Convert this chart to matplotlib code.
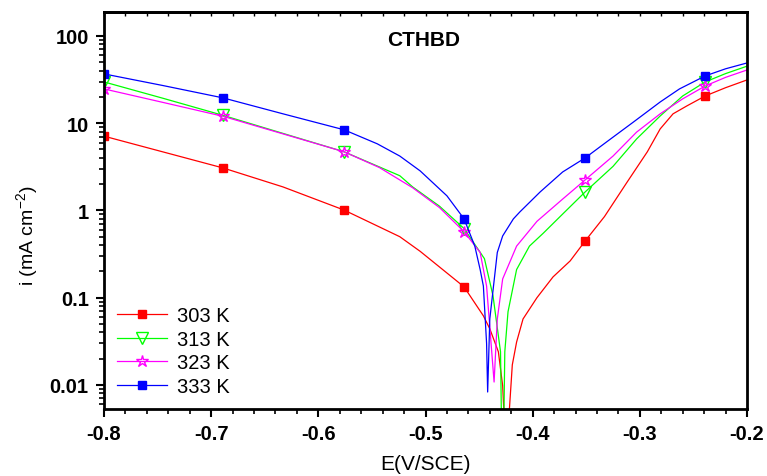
import numpy as np
import matplotlib.pyplot as plt
from matplotlib import ticker

plt.rcParams['font.family'] = ['Liberation Sans', 'DejaVu Sans']

# ---------------------------------------------------------
# data (E in V/SCE, i in mA cm^-2)
# ---------------------------------------------------------
mark_x = [-0.8, -0.689, -0.576, -0.464, -0.351, -0.239]

e_303 = [-0.8, -0.689, -0.633, -0.576, -0.524, -0.505, -0.464, -0.446, -0.440,
         -0.432, -0.428, -0.426, -0.423, -0.419, -0.415, -0.409, -0.396, -0.381,
         -0.365, -0.351, -0.333, -0.312, -0.293, -0.281, -0.269, -0.256, -0.239,
         -0.22, -0.2]
i_303 = [7.1, 3.07, 1.86, 1.01, 0.50, 0.34, 0.133, 0.062, 0.044,
         0.024, 0.0098, 0.003, 0.003, 0.017, 0.031, 0.057, 0.10, 0.173,
         0.264, 0.447, 0.85, 2.1, 4.7, 8.6, 12.8, 15.8, 20.5,
         25.5, 31.3]

e_313 = [-0.8, -0.745, -0.689, -0.576, -0.543, -0.524, -0.512, -0.487, -0.464,
         -0.445, -0.437, -0.430, -0.429, -0.427, -0.426, -0.423, -0.415, -0.403,
         -0.39, -0.374, -0.351, -0.325, -0.303, -0.281, -0.260, -0.239, -0.22, -0.2]
i_313 = [29.7, 19.3, 12.3, 4.7, 3.15, 2.5, 1.86, 1.12, 0.62,
         0.28, 0.105, 0.024, 0.003, 0.003, 0.024, 0.069, 0.21, 0.39,
         0.55, 0.86, 1.63, 3.2, 6.6, 12.1, 20.5, 29.7, 37.0, 45.0]

e_323 = [-0.8, -0.745, -0.689, -0.576, -0.543, -0.512, -0.487, -0.464, -0.449,
         -0.443, -0.436, -0.433, -0.428, -0.415, -0.405, -0.396, -0.372, -0.351,
         -0.325, -0.303, -0.281, -0.260, -0.239, -0.22, -0.2]
i_323 = [24.7, 17.3, 12.0, 4.7, 3.1, 1.82, 1.08, 0.57, 0.33,
         0.136, 0.0108, 0.057, 0.164, 0.39, 0.55, 0.75, 1.35, 2.24,
         4.2, 7.9, 12.8, 19.0, 26.7, 33.5, 40.7]

e_333 = [-0.8, -0.745, -0.689, -0.633, -0.576, -0.545, -0.524, -0.505, -0.480, -0.464,
         -0.454, -0.449, -0.446, -0.443, -0.442, -0.440, -0.433, -0.428, -0.418,
         -0.412, -0.393, -0.372, -0.351, -0.331, -0.306, -0.281, -0.263, -0.239,
         -0.22, -0.2]
i_333 = [36.7, 27.0, 19.5, 12.8, 8.4, 5.8, 4.2, 2.84, 1.47, 0.80,
         0.39, 0.21, 0.136, 0.03, 0.0083, 0.057, 0.33, 0.51, 0.80,
         0.96, 1.63, 2.76, 4.0, 6.1, 10.3, 17.5, 24.7, 34.8,
         42.0, 49.0]

labels = ['303 K', '313 K', '323 K', '333 K']

# ---------------------------------------------------------
# plot
# ---------------------------------------------------------
fig = plt.figure(figsize=(7.67, 4.77), dpi=100)
ax = fig.add_axes([104 / 767, 1 - 410 / 477, (747 - 104) / 767, (410 - 13) / 477])

series = [
    (e_303, i_303, dict(color='#ff0000', marker='s', mfc='#ff0000', mec='#ff0000')),
    (e_313, i_313, dict(color='#00ff00', marker='v', mfc='none', mec='#00ff00')),
    (e_323, i_323, dict(color='#ff00ff', marker='*', mfc='none', mec='#ff00ff')),
    (e_333, i_333, dict(color='#0000ff', marker='s', mfc='#0000ff', mec='#0000ff')),
]
for (e, i, st), lab in zip(series, labels):
    e = np.array(e)
    idx = [int(np.argmin(np.abs(e - m))) for m in mark_x]
    ms = 9 if st['marker'] in ('v', '*') else 6
    ax.plot(e, i, lw=0.9, markevery=idx, ms=ms, mew=1.0, label=lab, **st)

ax.set_yscale('log')
ax.set_xlim(-0.8, -0.2)
ax.set_ylim(0.0053, 188)

ax.xaxis.set_major_locator(ticker.MultipleLocator(0.1))
ax.xaxis.set_minor_locator(ticker.MultipleLocator(0.02))
ax.xaxis.set_major_formatter(ticker.FuncFormatter(lambda v, p: f'{v:.1f}'))
ax.yaxis.set_major_locator(ticker.LogLocator(base=10, numticks=10))
ax.yaxis.set_minor_locator(ticker.LogLocator(base=10, subs=np.arange(2, 10), numticks=20))
ax.yaxis.set_minor_formatter(ticker.NullFormatter())
ax.yaxis.set_major_formatter(ticker.FuncFormatter(lambda v, p: f'{v:g}'))

for s in ax.spines.values():
    s.set_linewidth(2)
ax.tick_params(which='major', direction='out', length=6, width=1.5,
               labelsize=14.5, pad=5, top=False, right=False)
ax.tick_params(which='minor', direction='out', length=3.5, width=1.2,
               top=False, right=False)
for lbl in ax.get_xticklabels() + ax.get_yticklabels():
    lbl.set_fontweight('bold')

# top inward ticks
axt = ax.secondary_xaxis('top')
axt.xaxis.set_major_locator(ticker.MultipleLocator(0.1))
axt.xaxis.set_minor_locator(ticker.MultipleLocator(0.02))
axt.tick_params(which='both', direction='in', length=3, width=1, labeltop=False)
axt.spines['top'].set_linewidth(2)

ax.set_xlabel('E(V/SCE)', fontsize=15, labelpad=8)
ax.set_ylabel('i (mA cm$^{\\mathregular{-2}}$)', fontsize=14)
ax.yaxis.set_label_coords(-0.098, 0.44)
ax.text(0.497, 0.93, 'CTHBD', transform=ax.transAxes, ha='center', va='center',
        fontsize=15, fontweight='bold')

ax.legend(loc='lower left', bbox_to_anchor=(-0.008, -0.012), frameon=False, fontsize=14.5,
          handlelength=2.5, handletextpad=0.5, labelspacing=0.22)

fig.savefig('out.png', dpi=100)
